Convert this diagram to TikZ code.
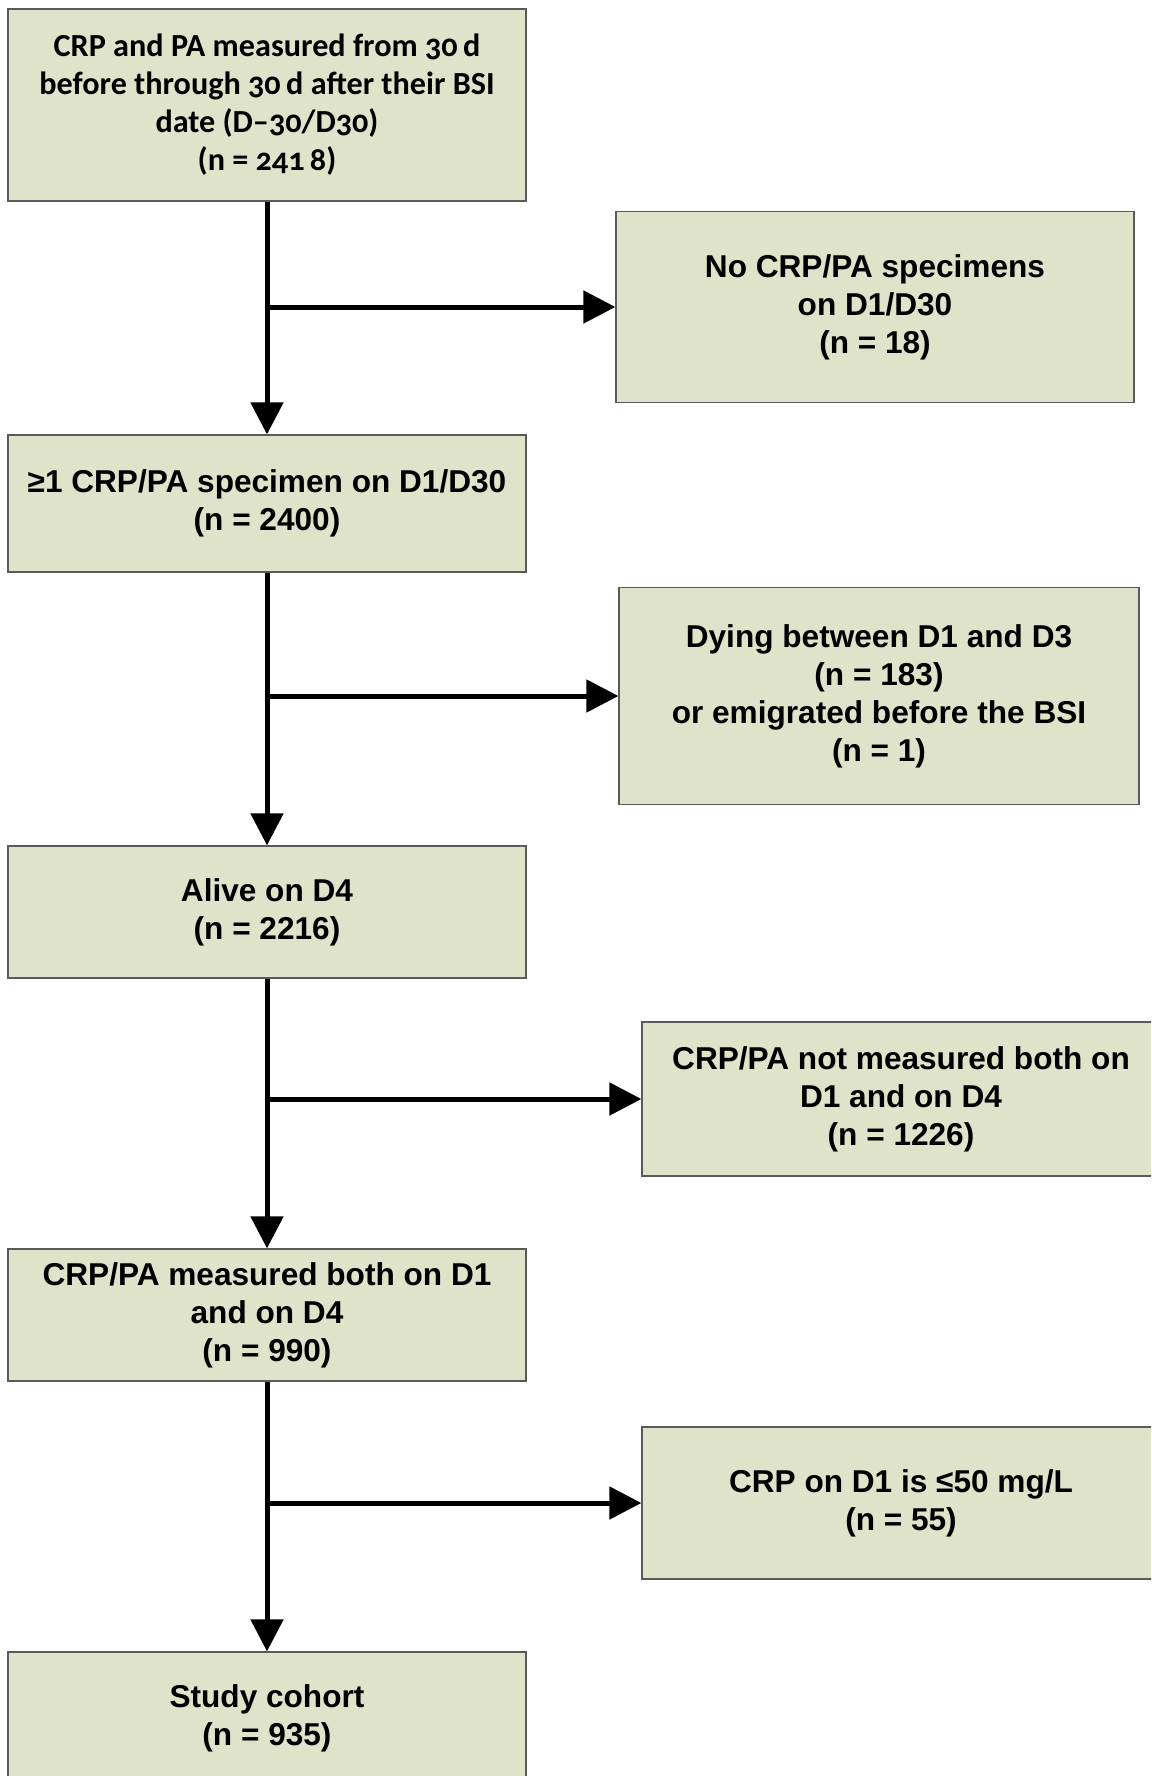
\documentclass[tikz,border=0pt]{standalone}
\usepackage{fontspec}
\setmainfont{Liberation Sans}
\newfontfamily\arialfont{Liberation Sans}
\newfontfamily\calfont[Numbers=OldStyle]{Carlito}
\usetikzlibrary{arrows.meta}
\definecolor{boxfill}{RGB}{222,227,201}
\definecolor{boxline}{RGB}{90,90,90}
\tikzset{
  flowbox/.style={draw=boxline, line width=0.6pt, fill=boxfill, rectangle, align=center,
    font=\arialfont\fontsize{15.8pt}{19pt}\selectfont\bfseries, inner sep=0pt},
  flowarrow/.style={line width=2.5pt, -{Triangle[length=16pt,width=16pt]}}
}
\begin{document}
\begin{tikzpicture}[x=0.5pt,y=-0.5pt]
\clip (0,0) rectangle (1151,1776);
\fill[white] (0,0) rectangle (1151,1776);
% left column
\node[flowbox, minimum width=259pt, minimum height=96pt, font=\calfont\fontsize{16.1pt}{19pt}\selectfont\bfseries] (b1) at (267,105)
  {CRP and PA measured from 30\,d\\before through 30\,d after their BSI\\date (D\textendash30/D30)\\(n = 241\,8)};
\node[flowbox, minimum width=259pt, minimum height=68.5pt] (b2) at (267,503.5)
  {≥1 CRP/PA specimen on D1/D30\\(n = 2400)};
\node[flowbox, minimum width=259pt, minimum height=66pt] (b3) at (267,912)
  {Alive on D4\\(n = 2216)};
\node[flowbox, minimum width=259pt, minimum height=66pt] (b4) at (267,1315)
  {CRP/PA measured both on D1\\and on D4\\(n = 990)};
\node[flowbox, minimum width=259pt, minimum height=66pt] (b5) at (267,1718)
  {Study cohort\\(n = 935)};
% right column
\node[flowbox, minimum width=259pt, minimum height=95.5pt] (r1) at (875,307)
  {No CRP/PA specimens\\on D1/D30\\(n = 18)};
\node[flowbox, minimum width=260pt, minimum height=108.5pt] (r2) at (879,696)
  {Dying between D1 and D3\\(n = 183)\\or emigrated before the BSI\\(n = 1)};
\node[flowbox, minimum width=259pt, minimum height=77pt] (r3) at (901,1099)
  {CRP/PA not measured both on\\D1 and on D4\\(n = 1226)};
\node[flowbox, minimum width=259pt, minimum height=76pt] (r4) at (901,1503)
  {CRP on D1 is ≤50 mg/L\\(n = 55)};
% connectors
\draw[flowarrow] (b1.south) -- (b2.north);
\draw[flowarrow] (b1.south |- r1.west) -- (r1.west);
\draw[flowarrow] (b2.south) -- (b3.north);
\draw[flowarrow] (b2.south |- r2.west) -- (r2.west);
\draw[flowarrow] (b3.south) -- (b4.north);
\draw[flowarrow] (b3.south |- r3.west) -- (r3.west);
\draw[flowarrow] (b4.south) -- (b5.north);
\draw[flowarrow] (b4.south |- r4.west) -- (r4.west);
\end{tikzpicture}
\end{document}
